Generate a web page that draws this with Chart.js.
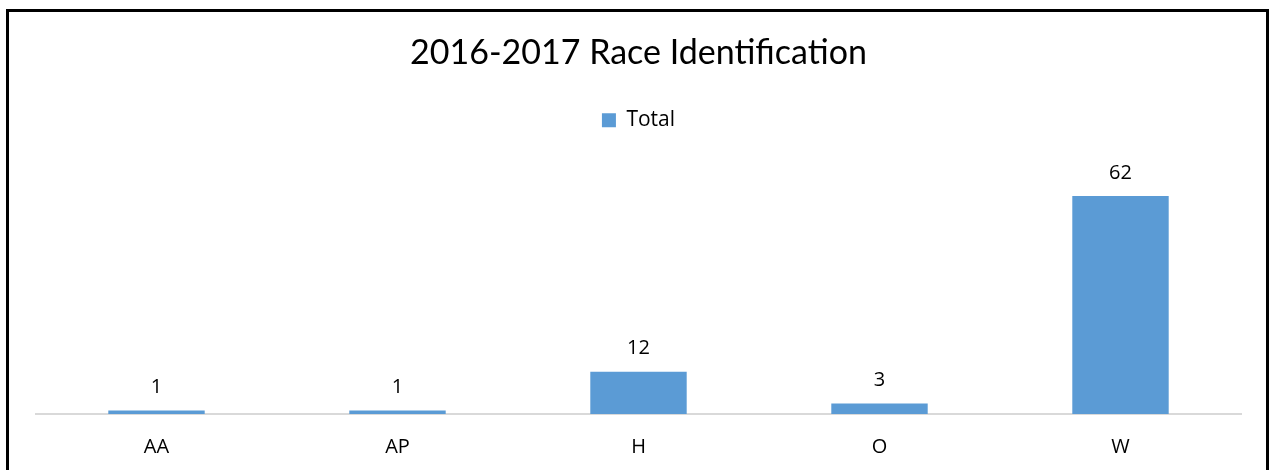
<!DOCTYPE html>
<html>
<head>
<meta charset="utf-8">
<script src="https://cdn.jsdelivr.net/npm/chart.js@4.4.1/dist/chart.umd.min.js"></script>
<style>
html,body{margin:0;padding:0;background:#fff;}
#wrap{position:relative;width:1271px;height:470px;overflow:hidden;}
#frame{position:absolute;left:6px;top:9px;width:1263px;height:480px;border:3px solid #000;box-sizing:border-box;}
canvas{position:absolute;left:0;top:0;}
</style>
</head>
<body>
<div id="wrap">
<canvas id="c" width="1271" height="490"></canvas>
<div id="frame"></div>
</div>
<script>
const categories = ["AA", "AP", "H", "O", "W"];
const totals = [1, 1, 12, 3, 62];
const seriesName = "Total";
const chartTitle = "2016-2017 Race Identification";

const labelPlugin = {
  id: 'barLabels',
  afterDatasetsDraw(chart) {
    const ctx = chart.ctx;
    const meta = chart.getDatasetMeta(0);
    ctx.save();
    ctx.font = '20px "Open Sans", Calibri, sans-serif';
    ctx.fillStyle = '#000';
    ctx.textAlign = 'center';
    ctx.textBaseline = 'bottom';
    meta.data.forEach((bar, i) => {
      ctx.fillText(String(totals[i]), bar.x, bar.y - 13);
    });
    ctx.restore();
  }
};

const legendSpacer = {
  id: 'legendSpacer',
  beforeInit(chart) {
    const orig = chart.legend.fit;
    chart.legend.fit = function () {
      orig.call(this);
      this.height += 27;
    };
  }
};

new Chart(document.getElementById('c'), {
  type: 'bar',
  data: {
    labels: categories,
    datasets: [{
      label: seriesName,
      data: totals,
      backgroundColor: '#5b9bd5',
      borderWidth: 0,
      categoryPercentage: 1,
      barPercentage: 0.4
    }]
  },
  options: {
    responsive: false,
    animation: false,
    layout: { padding: { left: 36, right: 30, top: 33, bottom: 10 } },
    plugins: {
      title: {
        display: true,
        text: chartTitle,
        color: '#000',
        font: { family: 'Lato, "Open Sans", sans-serif', size: 34, weight: 'normal' },
        padding: { top: 0, bottom: 30 }
      },
      legend: {
        display: true,
        labels: {
          color: '#000',
          boxWidth: 14,
          boxHeight: 14,
          padding: 6,
          font: { family: '"Open Sans", sans-serif', size: 21 }
        }
      },
      tooltip: { enabled: false }
    },
    scales: {
      x: {
        grid: { display: false, drawTicks: false },
        border: { display: true, color: '#d9d9d9', width: 2 },
        ticks: { color: '#000', padding: 21, font: { family: '"Open Sans", sans-serif', size: 20 } }
      },
      y: {
        display: false,
        min: 0,
        max: 70
      }
    }
  },
  plugins: [labelPlugin, legendSpacer]
});
</script>
</body>
</html>
